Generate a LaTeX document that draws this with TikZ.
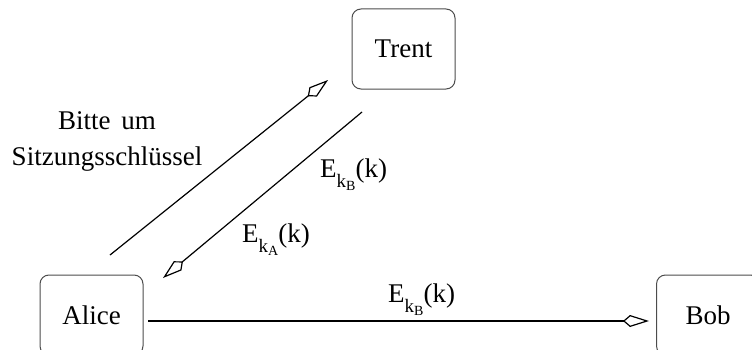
\documentclass[tikz,border=0pt]{standalone}
\usepackage{fontspec}
\setmainfont{Liberation Serif}
\usetikzlibrary{arrows.meta}
\newcommand{\Ek}[1]{E\raisebox{-10pt}{\fontsize{19}{19}\selectfont k\raisebox{-3pt}{\fontsize{14}{14}\selectfont #1}}(k)}
\begin{document}
\begin{tikzpicture}[x=1pt,y=1pt,
  party/.style={draw=black!70, line width=1pt, rounded corners=9pt, minimum width=103pt, minimum height=80pt, inner sep=0pt, font=\fontsize{27}{32}\selectfont},
  msg/.style={line width=1.2pt, -{Kite[open, length=26pt, width=12pt, inset=7pt, line width=1.2pt]}},
  lbl/.style={font=\fontsize{27}{36}\selectfont, inner sep=0pt}]
\useasboundingbox (0,0) rectangle (752,349);
\node[party] (trent) at (403.5,300) {Trent};
\node[party] (alice) at (91.5,34) {Alice};
\node[party] (bob) at (708,34) {Bob};
\coordinate (a1) at (110,94);
\coordinate (t1) at (328,269);
\coordinate (t2) at (362,237);
\coordinate (a2) at (163,71);
\coordinate (a3) at (148,28);
\coordinate (b3) at (649,28);
\draw[msg] (a1) -- (t1);
\draw[msg] (t2) -- (a2);
\draw[msg] (a3) -- (b3);
\node[lbl, align=center] (req) at (107,208) {Bitte\hspace{0.15em} um\\Sitzungsschlüssel};
\node[lbl, anchor=base west] (l1) at (320,172) {\Ek{B}};
\node[lbl, anchor=base west] (l2) at (242,107) {\Ek{A}};
\node[lbl, anchor=base west] (l3) at (388,47) {\Ek{B}};
\end{tikzpicture}
\end{document}
